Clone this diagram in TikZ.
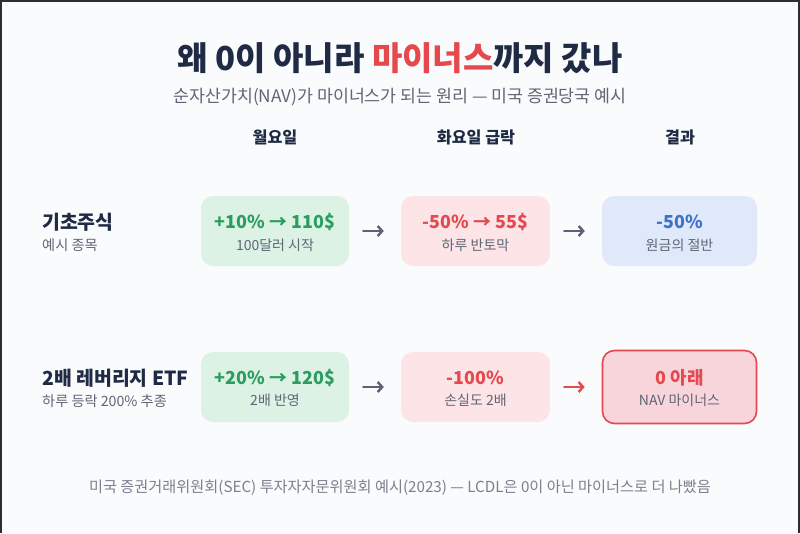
\documentclass[tikz,border=0pt]{standalone}
\usepackage{fontspec}
\setmainfont{Noto Sans CJK KR}
\usetikzlibrary{arrows.meta,calc}
\definecolor{navy}{HTML}{1F2A44}
\definecolor{subgray}{HTML}{5F6675}
\definecolor{footgray}{HTML}{7A8090}
\definecolor{bg}{HTML}{FAFBFC}
\definecolor{gfill}{HTML}{DCF2E5}
\definecolor{gtext}{HTML}{2A9D5F}
\definecolor{rfill}{HTML}{FCE4E7}
\definecolor{rtext}{HTML}{E5484D}
\definecolor{bfill}{HTML}{DFE9F9}
\definecolor{btext}{HTML}{3B73C9}
\definecolor{xfill}{HTML}{F8D5DA}
\definecolor{agray}{HTML}{5C6173}
\definecolor{frame}{HTML}{2E2E2E}
\tikzset{
  card/.style={rectangle, rounded corners=12pt, minimum width=148pt, minimum height=70pt, inner sep=0pt},
  maintxt/.style={font=\fontsize{17.9}{20}\selectfont\bfseries, inner sep=0pt},
  subtxt/.style={font=\fontsize{14}{16}\selectfont, text=subgray, inner sep=0pt},
  colhead/.style={font=\fontsize{16.2}{18}\selectfont\bfseries, text=navy, inner sep=0pt},
  rowhead/.style={font=\fontsize{19.4}{22}\selectfont\bfseries, text=navy, inner sep=0pt, anchor=west},
  rowsub/.style={font=\fontsize{14.2}{16}\selectfont, text=subgray, inner sep=0pt, anchor=west},
  flow/.style={line width=2.4pt, agray, -{Straight Barb[length=4.5pt,width=10pt]}, line cap=round, shorten <=14pt, shorten >=17pt},
}
\begin{document}
\begin{tikzpicture}[x=1pt,y=-1pt]
\fill[bg] (0,0) rectangle (800,533);
\useasboundingbox (0,0) rectangle (800,533);
\draw[frame, line width=2pt] (1,533) -- (1,1) -- (799,1) -- (799,533);

% title
\node[font=\fontsize{33}{36}\selectfont\bfseries, text=navy, inner sep=0pt] (title) at (400,58)
  {왜 0이 아니라 \textcolor{rtext}{마이너스}까지 갔나};
\node[font=\fontsize{17.3}{20}\selectfont, text=subgray, inner sep=0pt] (subtitle) at (400,97)
  {순자산가치(NAV)가 마이너스가 되는 원리 — 미국 증권당국 예시};

% column headers
\node[colhead] (h1) at (275,137) {월요일};
\node[colhead] (h2) at (476,137) {화요일 급락};
\node[colhead] (h3) at (680,137) {결과};

% row headers
\node[rowhead] (r1) at (42,222) {기초주식};
\node[rowsub] (r1s) at (42,245) {예시 종목};
\node[rowhead] (r2) at (42,378) {2배 레버리지 ETF};
\node[rowsub] (r2s) at (42,401) {하루 등락 200\% 추종};

% row 1 cards
\node[card, fill=gfill] (a1) at (275,231) {};
\node[card, fill=rfill, minimum width=149pt] (a2) at (475.5,231) {};
\node[card, fill=bfill, minimum width=155pt] (a3) at (679.5,231) {};
\node[maintxt, text=gtext] (a1m) at (275,222) {+10\% → 110\$};
\node[subtxt] (a1s) at (275,245) {100달러 시작};
\node[maintxt, text=rtext] (a2m) at (475.5,222) {-50\% → 55\$};
\node[subtxt] (a2s) at (475.5,245) {하루 반토막};
\node[maintxt, text=btext] (a3m) at (679.5,222) {-50\%};
\node[subtxt] (a3s) at (679.5,245) {원금의 절반};

% row 2 cards
\node[card, fill=gfill] (b1) at (275,387) {};
\node[card, fill=rfill, minimum width=149pt] (b2) at (475.5,387) {};
\node[card, fill=xfill, draw=rtext, line width=1.6pt, minimum width=154pt, minimum height=73pt] (b3) at (679.5,387) {};
\node[maintxt, text=gtext] (b1m) at (275,378) {+20\% → 120\$};
\node[subtxt] (b1s) at (275,400) {2배 반영};
\node[maintxt, text=rtext] (b2m) at (475.5,378) {-100\%};
\node[subtxt] (b2s) at (475.5,400) {손실도 2배};
\node[maintxt, text=rtext] (b3m) at (679.5,378) {0 아래};
\node[subtxt] (b3s) at (679.5,400) {NAV 마이너스};

% arrows
\draw[flow] (a1.east) -- (a2.west);
\draw[flow] (a2.east) -- (a3.west);
\draw[flow] (b1.east) -- (b2.west);
\draw[flow, rtext] (b2.east) -- (b3.west);

% footer
\node[font=\fontsize{15.2}{18}\selectfont, text=footgray, inner sep=0pt] (foot) at (400,488)
  {미국 증권거래위원회(SEC) 투자자자문위원회 예시(2023) — LCDL은 0이 아닌 마이너스로 더 나빴음};
\end{tikzpicture}
\end{document}
